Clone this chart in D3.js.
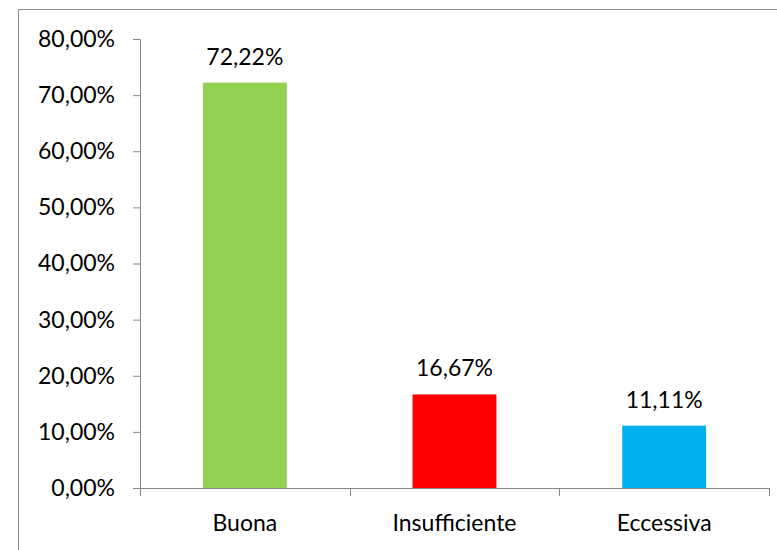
<!DOCTYPE html>
<html><head><meta charset="utf-8">
<script src="https://cdn.jsdelivr.net/npm/d3@7"></script>
<style>html,body{margin:0;padding:0;background:#fff;}svg{display:block;}</style>
</head><body>
<script>
const categories = ["Buona", "Insufficiente", "Eccessiva"];
const values = [72.22, 16.67, 11.11];
const colors = ["#92D050", "#FF0000", "#00B0F0"];
const yTicks = [0, 10, 20, 30, 40, 50, 60, 70, 80];

const W = 777, H = 550;
const svg = d3.select("body").append("svg").attr("width", W).attr("height", H);
const font = "Lato, 'Open Sans', sans-serif";
const fs = 23;

svg.append("rect").attr("x", 18.5).attr("y", 9.5).attr("width", W + 20).attr("height", H + 20)
  .attr("fill", "#fff").attr("stroke", "#8c8c8c").attr("stroke-width", 1);

const pLeft = 140, pRight = 769, pTop = 39, pBottom = 488;
const x = d3.scaleBand().domain(categories).range([pLeft, pRight]).paddingInner(0.6).paddingOuter(0.3);
const xOuter = d3.scaleBand().domain(categories).range([pLeft, pRight]);
const y = d3.scaleLinear().domain([0, 80]).range([pBottom, pTop]);
const fmt = v => d3.format(".2f")(v).replace(".", ",") + "%";

const g = svg.append("g");
g.selectAll("rect.bar").data(values).join("rect").attr("class", "bar")
  .attr("x", (d, i) => x(categories[i]))
  .attr("width", x.bandwidth())
  .attr("y", d => y(d))
  .attr("height", d => y(0) - y(d))
  .attr("fill", (d, i) => colors[i]);

g.selectAll("text.val").data(values).join("text").attr("class", "val")
  .attr("x", (d, i) => x(categories[i]) + x.bandwidth() / 2)
  .attr("y", d => y(d) - 18)
  .attr("text-anchor", "middle")
  .attr("font-family", font).attr("font-size", fs).attr("fill", "#000")
  .text(d => fmt(d));

const axisColor = "#868686";
const yAxis = svg.append("g").attr("transform", `translate(${pLeft},0)`)
  .call(d3.axisLeft(y).tickValues(yTicks).tickSize(7).tickPadding(18).tickFormat(d => fmt(d)));
yAxis.select(".domain").attr("stroke", axisColor).attr("d", `M-7,${pTop}.5H0.5V${pBottom}.5`);
yAxis.selectAll(".tick line").attr("stroke", axisColor);
yAxis.selectAll("text").attr("font-family", font).attr("font-size", fs).attr("fill", "#000");

const xAxis = svg.append("g").attr("transform", `translate(0,${pBottom})`);
xAxis.append("path").attr("d", `M${pLeft},0.5H${pRight}`).attr("stroke", axisColor).attr("fill", "none");
const boundaries = categories.map(c => xOuter(c)).concat([pRight]);
xAxis.selectAll("line.b").data(boundaries).join("line").attr("class", "b")
  .attr("x1", d => Math.round(d) + 0.5).attr("x2", d => Math.round(d) + 0.5)
  .attr("y1", 0).attr("y2", 8).attr("stroke", axisColor);
xAxis.selectAll("text").data(categories).join("text")
  .attr("x", d => xOuter(d) + xOuter.bandwidth() / 2)
  .attr("y", 43)
  .attr("text-anchor", "middle")
  .attr("font-family", font).attr("font-size", fs).attr("fill", "#000")
  .text(d => d);
</script>
</body></html>
